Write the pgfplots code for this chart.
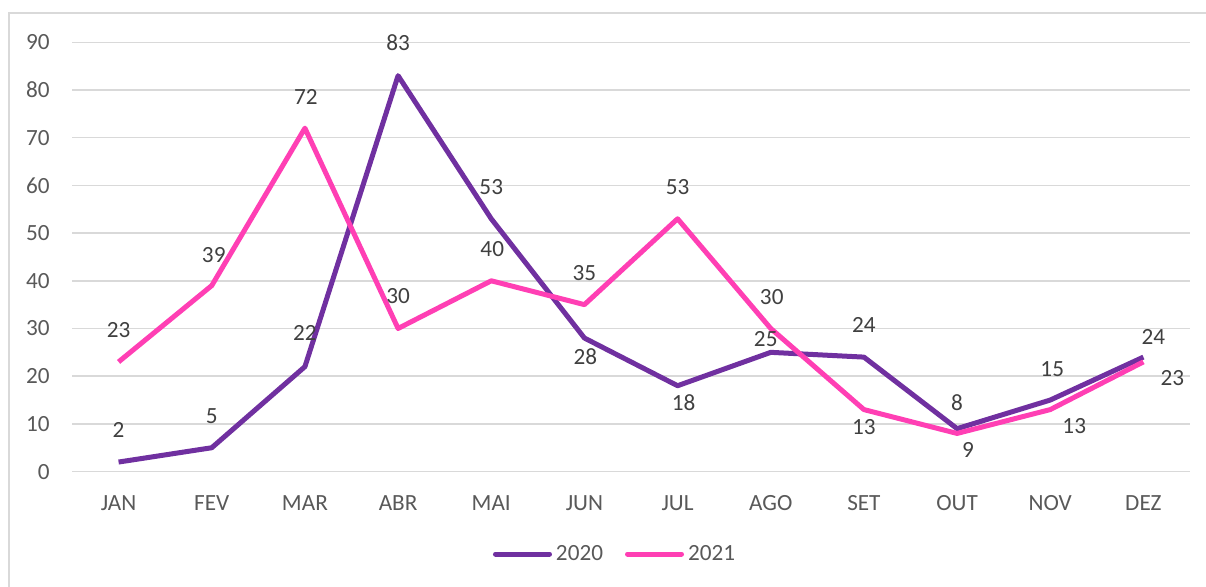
\documentclass[border=0pt]{standalone}
\usepackage{pgfplots}
\pgfplotsset{compat=1.18}
\usepackage{pgfplotstable}
\usepackage{fontspec}
\setmainfont{Carlito}
\definecolor{cpurple}{RGB}{112,48,160}
\definecolor{cpink}{RGB}{255,63,180}
\definecolor{cgrid}{RGB}{217,217,217}
\definecolor{ctick}{RGB}{89,89,89}
\definecolor{clabel}{RGB}{64,64,64}

\pgfplotstableread{
x y dx dy
0 2 0 16
1 5 0 16
2 22 0 17
3 83 0 16.5
4 53 0 16
5 28 0.5 -9.5
6 18 3 -8.5
7 25 -2.5 6.5
8 24 0 16
9 9 5.5 -10.5
10 15 1 15.5
11 24 5 10
}\dataA

\pgfplotstableread{
x y dx dy
0 23 0 16
1 39 1 15.5
2 72 0.5 15.5
3 30 0 16
4 40 0.5 16
5 35 0 16
6 53 0 16
7 30 0.5 15.5
8 13 0 -8.5
9 8 0 15.5
10 13 12 -8
11 23 14.5 -8
}\dataB

\begin{document}
\begin{tikzpicture}
\useasboundingbox (0,0) rectangle (603pt,293.5pt);
\draw[cgrid, line width=1pt] (4.5pt,-10pt) -- (4.5pt,287pt) -- (620pt,287pt);
\begin{axis}[
  at={(36pt,57.7pt)}, anchor=south west,
  scale only axis, width=559pt, height=214.65pt,
  xmin=-0.5, xmax=11.5, ymin=0, ymax=90,
  xtick={0,...,11},
  xticklabels={JAN,FEV,MAR,ABR,MAI,JUN,JUL,AGO,SET,OUT,NOV,DEZ},
  ytick={0,10,...,90},
  ymajorgrids, grid style={cgrid, line width=0.75pt},
  axis line style={draw=none},
  major tick length=0pt,
  clip=false,
  /pgf/number format/assume math mode=true,
  tick label style={font=\fontsize{11.6}{14}\selectfont, text=ctick, inner sep=0pt},
  xticklabel style={anchor=center, yshift=-15.7pt},
  yticklabel style={anchor=east, xshift=-11pt},
  legend style={at={(0.4866,-0.192)}, anchor=center, draw=none, fill=none,
    legend columns=-1, font=\fontsize{11.6}{14}\selectfont, text=ctick,
    /tikz/every even column/.append style={column sep=9pt},
    legend cell align=left, inner sep=0pt},
  legend image code/.code={\draw[#1, line cap=round] (0pt,0pt) -- (27pt,0pt);},
  nodes near coords,
  visualization depends on={\thisrow{dx} \as \dx},
  visualization depends on={\thisrow{dy} \as \dy},
  every node near coord/.append style={anchor=center, xshift=\dx pt, yshift=\dy pt,
    font=\fontsize{11.6}{14}\selectfont, text=clabel, inner sep=0pt},
]
\addplot[cpurple, line width=2.5pt, line join=round, mark=none] table[x=x,y=y] {\dataA};
\addlegendentry{2020}
\addplot[cpink, line width=2.5pt, line join=round, mark=none] table[x=x,y=y] {\dataB};
\addlegendentry{2021}
\end{axis}
\end{tikzpicture}
\end{document}
